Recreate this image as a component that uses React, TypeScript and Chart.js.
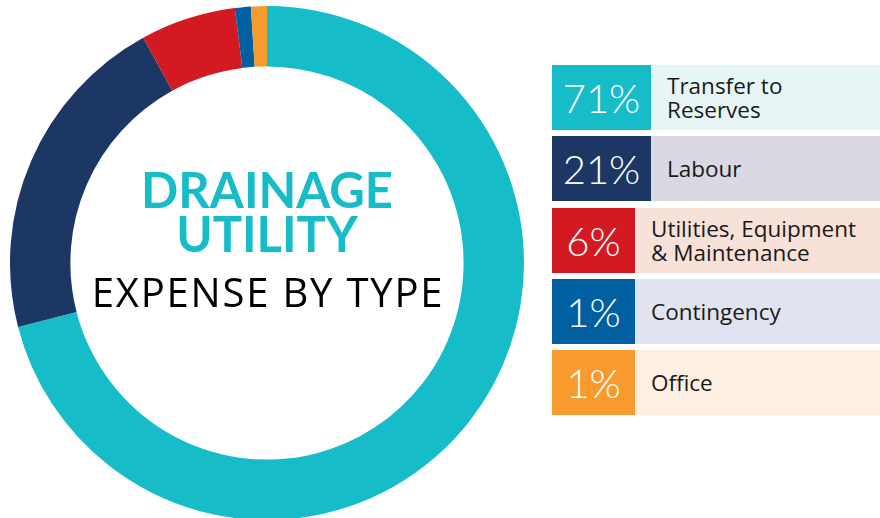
import React, { useEffect, useRef } from "react";
import { Chart, registerables } from "chart.js";

Chart.register(...registerables);

const categories = ["Transfer to\nReserves", "Labour", "Utilities, Equipment\n& Maintenance", "Contingency", "Office"];
const values = [71, 21, 6, 1, 1];
const percentLabels = ["71%", "21%", "6%", "1%", "1%"];
const sliceColors = ["#17BCC9", "#1C3763", "#D31A22", "#005FA1", "#F89A2D"];
const rowBackgrounds = ["#E8F5F7", "#DAD8E2", "#F8E1D8", "#E1E3F0", "#FEEFE2"];
const boxWidths = [99, 99, 83, 83, 83];

const FONT = "Lato, 'Open Sans', sans-serif";
const FONT2 = "'Open Sans', Lato, sans-serif";

export default function App() {
  const ref = useRef<HTMLCanvasElement | null>(null);

  useEffect(() => {
    if (!ref.current) return;
    const chart = new Chart(ref.current, {
      type: "doughnut",
      data: {
        labels: categories,
        datasets: [
          {
            data: values,
            backgroundColor: sliceColors,
            borderWidth: 0,
          },
        ],
      },
      options: {
        animation: false,
        responsive: false,
        maintainAspectRatio: false,
        cutout: "76.5%",
        rotation: 0,
        layout: { padding: 0 },
        plugins: {
          legend: { display: false },
          tooltip: { enabled: false },
        },
      },
    });
    return () => chart.destroy();
  }, []);

  const rowTops = [65, 136, 208, 279, 350];

  return (
    <div
      style={{
        position: "fixed",
        left: 0,
        top: 0,
        width: 880,
        height: 518,
        overflow: "hidden",
        background: "#ffffff",
        fontFamily: FONT,
      }}
    >
      <canvas
        ref={ref}
        width={514}
        height={514}
        style={{ position: "absolute", left: 10, top: 6, width: 514, height: 514 }}
      />
      <div
        style={{
          position: "absolute",
          left: 67,
          width: 400,
          top: 159.6,
          textAlign: "center",
          fontSize: 49,
          lineHeight: "58.8px",
          fontWeight: 700,
          color: "#17BCC9",
          whiteSpace: "nowrap",
        }}
      >
        DRAINAGE
      </div>
      <div
        style={{
          position: "absolute",
          left: 67,
          width: 400,
          top: 203.6,
          textAlign: "center",
          fontSize: 49,
          lineHeight: "58.8px",
          fontWeight: 700,
          color: "#17BCC9",
          whiteSpace: "nowrap",
        }}
      >
        UTILITY
      </div>
      <div
        style={{
          position: "absolute",
          left: 18,
          width: 500,
          top: 308 - 40 * 1.069,
          textAlign: "center",
          fontSize: 40,
          lineHeight: "54.5px",
          letterSpacing: "1.8px",
          fontFamily: FONT2,
          fontWeight: 400,
          color: "#000000",
          whiteSpace: "nowrap",
        }}
      >
        EXPENSE BY TYPE
      </div>
      {categories.map((cat, i) => (
        <div
          key={i}
          style={{
            position: "absolute",
            left: 552,
            top: rowTops[i],
            width: 328,
            height: 65,
            background: rowBackgrounds[i],
            display: "flex",
            alignItems: "center",
          }}
        >
          <div
            style={{
              width: boxWidths[i],
              height: 65,
              background: sliceColors[i],
              color: "#ffffff",
              fontSize: 40,
              fontWeight: 300,
              display: "flex",
              alignItems: "center",
              justifyContent: "center",
              flexShrink: 0,
            }}
          >
            {percentLabels[i]}
          </div>
          <div
            style={{
              marginLeft: 16,
              fontSize: 22.5,
              lineHeight: "24px",
              fontFamily: FONT2,
              color: "#1a1a1a",
              whiteSpace: "pre",
            }}
          >
            {cat}
          </div>
        </div>
      ))}
    </div>
  );
}
